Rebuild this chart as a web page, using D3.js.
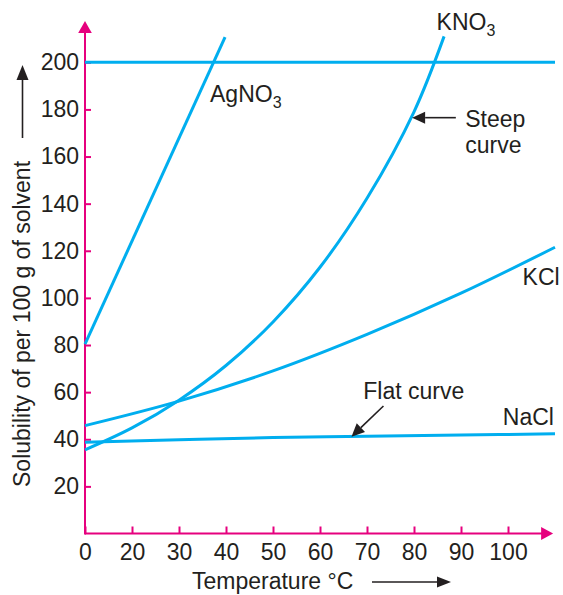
<!DOCTYPE html>
<html>
<head>
<meta charset="utf-8">
<script src="https://cdn.jsdelivr.net/npm/d3@7"></script>
<style>
  body { margin: 0; background: #fff; }
  svg { display: block; font-family: "Liberation Sans", Arial, Helvetica, sans-serif; }
</style>
</head>
<body>
<svg id="chart"></svg>
<script>
// x values are positions along the printed axis (one tick = 10 units);
// the printed labels skip "10", so they are kept separately below
const xTickValues = [0, 10, 20, 30, 40, 50, 60, 70, 80, 90];
const xTickLabels = ['0', '20', '30', '40', '50', '60', '70', '80', '90', '100'];
const yTickValues = [20, 40, 60, 80, 100, 120, 140, 160, 180, 200];

const agno3X = [0, 29.8];
const agno3Y = [80.4, 210.7];

const kno3X = [0, 10, 20, 30, 40, 50, 60, 70, 76.4];
const kno3Y = [35.5, 44.8, 56.6, 71.3, 89.8, 113, 142.3, 179, 211];

const kclX = [0, 20, 40, 60, 80, 100];
const kclY = [45.8, 56.2, 69, 84.5, 102, 121.5];

const naclX = [0, 20, 40, 60, 80, 100];
const naclY = [38.7, 39.8, 40.7, 41.3, 41.8, 42.3];

const limitX = [0, 100];
const limitY = [200, 200];

const width = 563;
const height = 595;
const margin = {top: 62.3, right: 8, bottom: 61.5, left: 85};

const cyan = '#00aeef';
const magenta = '#e6007e';
const ink = '#231f20';

const svg = d3.select('#chart')
  .attr('width', width)
  .attr('height', height)
  .attr('viewBox', [0, 0, width, height]);

const x = d3.scaleLinear()
  .domain([0, 100])
  .range([margin.left, margin.left + 470]);

const y = d3.scaleLinear()
  .domain([0, 200])
  .range([height - margin.bottom, margin.top]);

// axes
function xAxis(g) {
  return g
    .attr('transform', `translate(0,${y(0)})`)
    .call(d3.axisBottom(x)
      .tickValues(xTickValues)
      .tickFormat((d, i) => xTickLabels[i])
      .tickSize(-7)
      .tickPadding(10))
    .call(g_ => g_.select('.domain').remove())
    .call(g_ => g_.selectAll('.tick line').attr('stroke', magenta).attr('stroke-width', 2))
    .call(g_ => g_.selectAll('.tick text')
      .attr('fill', ink)
      .attr('font-size', 23)
      .attr('font-family', 'Liberation Sans, Arial, sans-serif'));
}

function yAxis(g) {
  return g
    .attr('transform', `translate(${x(0)},0)`)
    .call(d3.axisLeft(y)
      .tickValues(yTickValues)
      .tickSize(-6)
      .tickPadding(6))
    .call(g_ => g_.select('.domain').remove())
    .call(g_ => g_.selectAll('.tick line').attr('stroke', magenta).attr('stroke-width', 2))
    .call(g_ => g_.selectAll('.tick text')
      .attr('fill', ink)
      .attr('font-size', 23)
      .attr('font-family', 'Liberation Sans, Arial, sans-serif'));
}

svg.append('g').call(xAxis);
svg.append('g').call(yAxis);

// axis lines with arrow heads
const xEnd = 99.6;
const yEnd = 217.5;
svg.append('line')
  .attr('x1', x(0)).attr('x2', x(xEnd) - 8)
  .attr('y1', y(0)).attr('y2', y(0))
  .attr('stroke', magenta).attr('stroke-width', 2);
svg.append('path')
  .attr('d', `M${x(xEnd)},${y(0)} l-12,-6.5 l0,13 z`)
  .attr('fill', magenta);
svg.append('line')
  .attr('x1', x(0)).attr('x2', x(0))
  .attr('y1', y(0) + 1).attr('y2', y(yEnd) + 8)
  .attr('stroke', magenta).attr('stroke-width', 2);
svg.append('path')
  .attr('d', `M${x(0)},${y(yEnd)} l-6.8,12 l13.6,0 z`)
  .attr('fill', magenta);

// curves
const series = [
  {xs: limitX, ys: limitY, curve: d3.curveLinear},
  {xs: agno3X, ys: agno3Y, curve: d3.curveLinear},
  {xs: kno3X, ys: kno3Y, curve: d3.curveCatmullRom},
  {xs: kclX, ys: kclY, curve: d3.curveCatmullRom},
  {xs: naclX, ys: naclY, curve: d3.curveCatmullRom}
];

svg.append('g')
  .attr('fill', 'none')
  .attr('stroke', cyan)
  .attr('stroke-width', 3)
  .selectAll('path')
  .data(series)
  .join('path')
  .attr('d', s => d3.line()
    .x((d, i) => x(s.xs[i]))
    .y((d, i) => y(s.ys[i]))
    .curve(s.curve)(s.xs));

// labels
const labels = svg.append('g')
  .attr('fill', ink)
  .attr('font-size', 23);

function formula(base, sub, px, py) {
  const t = labels.append('text').attr('x', x(px)).attr('y', y(py));
  t.append('tspan').text(base);
  t.append('tspan').attr('font-size', 16).attr('dy', 6).text(sub);
}

formula('AgNO', '3', 26.6, 183.3);
formula('KNO', '3', 74.8, 213.7);

labels.append('text').attr('x', x(93.1)).attr('y', y(105.5)).text('KCl');
labels.append('text').attr('x', x(88.9)).attr('y', y(46.1)).text('NaCl');
labels.append('text').attr('x', x(80.9)).attr('y', y(172.7)).text('Steep');
labels.append('text').attr('x', x(80.9)).attr('y', y(161.4)).text('curve');
labels.append('text').attr('x', x(59.2)).attr('y', y(57.1)).text('Flat curve');

// pointer arrows
function pointer(x1, y1, x2, y2) {
  const ax = x(x1), ay = y(y1), bx = x(x2), by = y(y2);
  const ang = Math.atan2(by - ay, bx - ax);
  const len = 13, half = 6;
  const cx = bx - len * Math.cos(ang), cy = by - len * Math.sin(ang);
  svg.append('line')
    .attr('x1', ax).attr('y1', ay).attr('x2', cx).attr('y2', cy)
    .attr('stroke', ink).attr('stroke-width', 1.6);
  svg.append('path')
    .attr('d', `M${bx},${by} L${cx - half * Math.sin(ang)},${cy + half * Math.cos(ang)} L${cx + half * Math.sin(ang)},${cy - half * Math.cos(ang)} Z`)
    .attr('fill', ink);
}

pointer(78.9, 176.5, 69.6, 176.5);
pointer(63.5, 54.1, 56.7, 41.1);

// axis titles
svg.append('text')
  .attr('x', 192)
  .attr('y', 589)
  .attr('fill', ink)
  .attr('font-size', 23)
  .text('Temperature °C');
svg.append('line')
  .attr('x1', 372).attr('x2', 438)
  .attr('y1', 582).attr('y2', 582)
  .attr('stroke', ink).attr('stroke-width', 1.6);
svg.append('path')
  .attr('d', 'M451,582 l-14,-5.5 l0,11 z')
  .attr('fill', ink);

svg.append('text')
  .attr('transform', 'translate(30,487) rotate(-90)')
  .attr('fill', ink)
  .attr('font-size', 23)
  .text('Solubility of per 100 g of solvent');
svg.append('line')
  .attr('x1', 22.5).attr('x2', 22.5)
  .attr('y1', 138).attr('y2', 78)
  .attr('stroke', ink).attr('stroke-width', 1.6);
svg.append('path')
  .attr('d', 'M22.5,65 l-6,15 l12,0 z')
  .attr('fill', ink);
</script>
</body>
</html>
